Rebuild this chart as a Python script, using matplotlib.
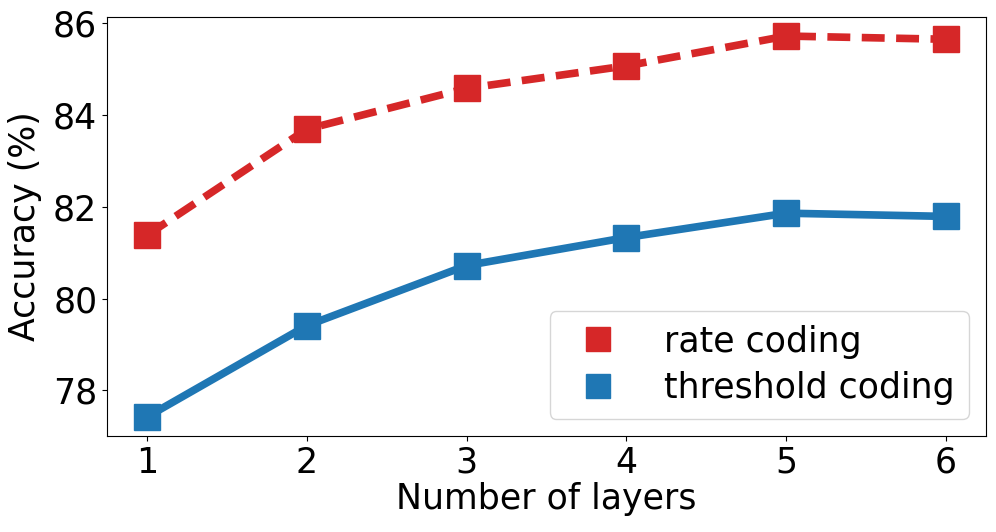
import matplotlib
matplotlib.use("Agg")
import matplotlib.pyplot as plt
from matplotlib.lines import Line2D

# Accuracy vs number of layers
layers = [1, 2, 3, 4, 5, 6]
rate_acc = [81.38, 83.69, 84.58, 85.07, 85.72, 85.65]
thresh_acc = [77.42, 79.41, 80.72, 81.33, 81.86, 81.79]

red = "#d62728"
blue = "#1f77b4"

plt.rcParams["font.size"] = 25

fig = plt.figure(figsize=(9.96, 5.32), dpi=100)
ax = fig.add_axes([107 / 996, 1 - 436 / 532, (986 - 107) / 996, (436 - 17) / 532])

ax.plot(layers, rate_acc, color=red, linestyle="--", linewidth=5.5,
        marker="s", markersize=19, dashes=(3, 1.5))
ax.plot(layers, thresh_acc, color=blue, linestyle="-", linewidth=5.5,
        marker="s", markersize=19)

ax.set_xticks(layers)
ax.set_yticks([78, 80, 82, 84, 86])
ax.set_xlabel("Number of layers", labelpad=2)
ax.set_ylabel("Accuracy (%)", labelpad=8)

handles = [Line2D([], [], color=red, marker="s", linestyle="none", markersize=17),
           Line2D([], [], color=blue, marker="s", linestyle="none", markersize=17)]
ax.legend(handles, ["rate coding", "threshold coding"], loc="lower right",
          handlelength=2.0, handletextpad=0.9, borderpad=0.4, labelspacing=0.35)

fig.savefig("out.png", dpi=100)
